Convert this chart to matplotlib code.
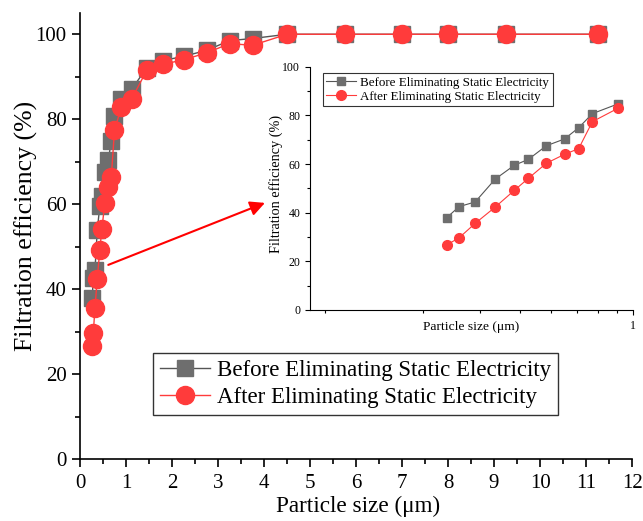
import matplotlib.pyplot as plt
from matplotlib.ticker import MultipleLocator, FixedLocator, NullFormatter

plt.rcParams['font.family'] = ['Liberation Serif', 'DejaVu Serif']

# particle size (um) and filtration efficiency (%)
size = [0.265, 0.29, 0.325, 0.375, 0.43, 0.475, 0.54, 0.615, 0.68, 0.75, 0.9,
        1.12, 1.45, 1.8, 2.25, 2.75, 3.25, 3.75, 4.5, 5.75, 7, 8, 9.25, 11.25]
before = [37.9, 42.5, 44.4, 53.8, 59.5, 61.9, 67.5, 70.3, 74.9, 80.7, 84.7,
          87.0, 92.1, 93.8, 94.8, 96.2, 98.5, 99.0, 100, 100, 100, 100, 100, 100]
after = [26.7, 29.7, 35.6, 42.3, 49.2, 54.1, 60.3, 64.0, 66.3, 77.4, 82.9,
         84.7, 91.5, 92.9, 94.0, 95.6, 97.8, 97.4, 100, 100, 100, 100, 100, 100]
n_inset = 11  # points below 1 um shown in the inset

lab_before = 'Before Eliminating Static Electricity'
lab_after = 'After Eliminating Static Electricity'
gray = '#6e6e6e'
red = '#ff3b3b'

fig = plt.figure(figsize=(6.43, 5.21), dpi=100)
ax = fig.add_axes([0.1244, 0.119, 0.8586, 0.856])

ax.plot(size, before, '-', color='#555555', lw=1, marker='s', ms=11.5,
        mfc=gray, mec=gray, label=lab_before, zorder=3)
ax.plot(size, after, '-', color=red, lw=1, marker='o', ms=13,
        mfc=red, mec=red, label=lab_after, zorder=4)

ax.set_xlim(0, 12)
ax.set_ylim(0, 105)
ax.xaxis.set_major_locator(MultipleLocator(1))
ax.xaxis.set_minor_locator(MultipleLocator(0.5))
ax.yaxis.set_major_locator(MultipleLocator(20))
ax.yaxis.set_minor_locator(MultipleLocator(10))
ax.tick_params(which='major', direction='out', length=6, width=1.2, labelsize=15)
ax.tick_params(which='minor', direction='out', length=3.5, width=1.2)
ax.tick_params(axis='x', pad=5)
for s in ['top', 'right']:
    ax.spines[s].set_visible(False)
for s in ['left', 'bottom']:
    ax.spines[s].set_linewidth(1.2)
ax.set_xlabel('Particle size (μm)', fontsize=16.7)
ax.xaxis.set_label_coords(0.503, -0.083)
ax.set_ylabel('Filtration efficiency (%)', fontsize=18.5)
ax.yaxis.set_label_coords(-0.076, 0.522)

leg = ax.legend(loc='lower left', bbox_to_anchor=(0.132, 0.099), borderaxespad=0,
                fontsize=16.5, frameon=True, fancybox=False, edgecolor='black',
                handlelength=2.2, handletextpad=0.3, borderpad=0.3,
                labelspacing=0.25)
leg.get_frame().set_linewidth(1)

ax.annotate('', xy=(4.02, 60.3), xytext=(0.615, 45.7),
            arrowprops=dict(arrowstyle='-|>', color='red', lw=1.5,
                            mutation_scale=22, shrinkA=0, shrinkB=0))

# inset with log x axis
ins = fig.add_axes([0.482, 0.405, 0.502, 0.467])
ins.plot(size[:n_inset], before[:n_inset], '-', color='#555555', lw=0.8,
         marker='s', ms=6, mfc=gray, mec=gray, label=lab_before)
ins.plot(size[:n_inset], after[:n_inset], '-', color=red, lw=0.8,
         marker='o', ms=7, mfc=red, mec=red, label=lab_after)
ins.set_xscale('log')
ins.set_xlim(0.1, 1.0)
ins.set_ylim(0, 100)
ins.xaxis.set_major_locator(FixedLocator([1]))
ins.xaxis.set_major_formatter(plt.FixedFormatter(['1']))
ins.xaxis.set_minor_locator(FixedLocator([0.111, 0.224, 0.336, 0.447, 0.559,
                                          0.671, 0.783, 0.894]))
ins.xaxis.set_minor_formatter(NullFormatter())
ins.yaxis.set_major_locator(MultipleLocator(20))
ins.yaxis.set_minor_locator(MultipleLocator(10))
ins.tick_params(which='major', direction='out', length=3.5, width=0.8, labelsize=8.5)
ins.tick_params(which='minor', direction='out', length=2, width=0.8)
for s in ['top', 'right']:
    ins.spines[s].set_visible(False)
for s in ['left', 'bottom']:
    ins.spines[s].set_linewidth(0.8)
ins.set_xlabel('Particle size (μm)', fontsize=9.7)
ins.xaxis.set_label_coords(0.5, -0.045)
ins.set_ylabel('Filtration efficiency (%)', fontsize=10.3)
ins.yaxis.set_label_coords(-0.084, 0.52)
ileg = ins.legend(loc='upper left', bbox_to_anchor=(0.041, 0.973), borderaxespad=0,
                  fontsize=9.4, frameon=True, fancybox=False, edgecolor='black',
                  handlelength=2.3, handletextpad=0.3, borderpad=0.25,
                  labelspacing=0.15)
ileg.get_frame().set_linewidth(0.8)

fig.savefig('out.png', dpi=100)
